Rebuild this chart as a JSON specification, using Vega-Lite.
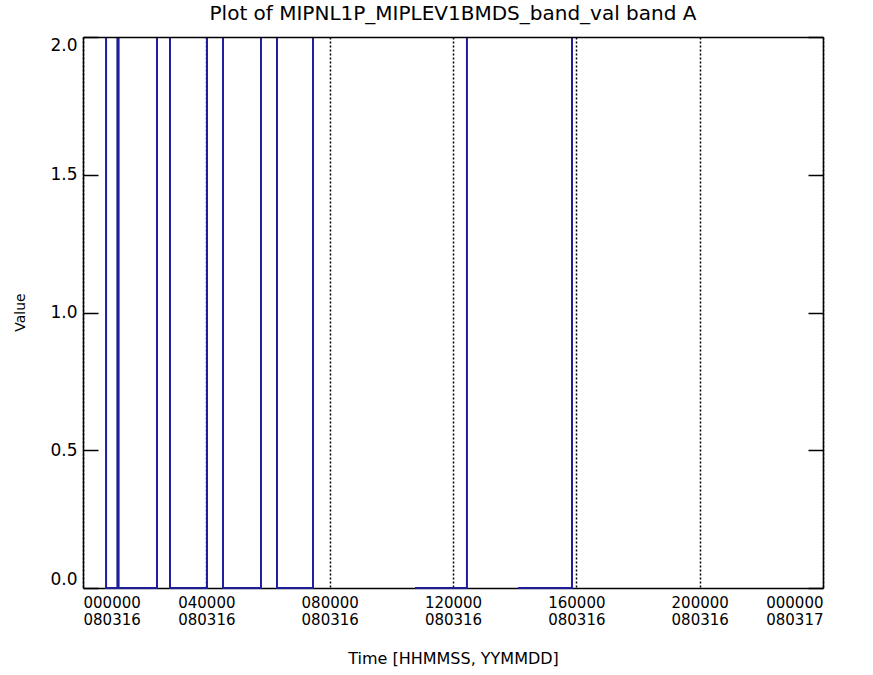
{
  "$schema": "https://vega.github.io/schema/vega-lite/v6.json",
  "width": 740,
  "height": 551,
  "autosize": "none",
  "padding": {"left": 83, "top": 37, "right": 50, "bottom": 87},
  "background": "white",
  "config": {"view": {"stroke": null}, "font": "DejaVu Sans"},
  "title": {"text": "Plot of MIPNL1P_MIPLEV1BMDS_band_val band A", "fontSize": 20, "fontWeight": "normal", "font": "DejaVu Sans", "offset": 9, "color": "black"},
  "data": {"values": [
    {"seg": 1, "i": 1, "t": 0.75, "v": 2},
    {"seg": 1, "i": 2, "t": 0.75, "v": 0},
    {"seg": 1, "i": 3, "t": 1.12, "v": 0},
    {"seg": 1, "i": 4, "t": 1.12, "v": 2},
    {"seg": 2, "i": 5, "t": 1.15, "v": 2},
    {"seg": 2, "i": 6, "t": 1.15, "v": 0},
    {"seg": 2, "i": 7, "t": 2.40, "v": 0},
    {"seg": 2, "i": 8, "t": 2.40, "v": 2},
    {"seg": 3, "i": 9, "t": 2.82, "v": 2},
    {"seg": 3, "i": 10, "t": 2.82, "v": 0},
    {"seg": 3, "i": 11, "t": 4.02, "v": 0},
    {"seg": 3, "i": 12, "t": 4.02, "v": 2},
    {"seg": 4, "i": 13, "t": 4.54, "v": 2},
    {"seg": 4, "i": 14, "t": 4.54, "v": 0},
    {"seg": 4, "i": 15, "t": 5.77, "v": 0},
    {"seg": 4, "i": 16, "t": 5.77, "v": 2},
    {"seg": 5, "i": 17, "t": 6.29, "v": 2},
    {"seg": 5, "i": 18, "t": 6.29, "v": 0},
    {"seg": 5, "i": 19, "t": 7.46, "v": 0},
    {"seg": 5, "i": 20, "t": 7.46, "v": 2},
    {"seg": 6, "i": 21, "t": 10.77, "v": 0},
    {"seg": 6, "i": 22, "t": 12.45, "v": 0},
    {"seg": 6, "i": 23, "t": 12.45, "v": 2},
    {"seg": 7, "i": 24, "t": 14.11, "v": 0},
    {"seg": 7, "i": 25, "t": 15.86, "v": 0},
    {"seg": 7, "i": 26, "t": 15.86, "v": 2}
  ]},
  "layer": [
    {
      "mark": {"type": "line", "color": "#1e1e9a", "strokeWidth": 1.8},
      "encoding": {
        "x": {"field": "t", "type": "quantitative", "scale": {"domain": [0, 24], "nice": false, "zero": false},
          "axis": {"orient": "bottom", "values": [0, 4, 8, 12, 16, 20, 24],
            "labelExpr": "datum.value == 24 ? ['000000', '080317'] : [(datum.value < 10 ? '0' : '') + datum.value + '0000', '080316']",
            "ticks": false, "grid": true, "gridDash": [2, 2], "gridColor": "black", "gridWidth": 1.5, "gridOpacity": 1,
            "domainColor": "black", "domainWidth": 1.5, "labelFontSize": 15, "labelColor": "black", "labelPadding": 7,
            "labelLineHeight": 17, "labelFont": "DejaVu Sans",
            "title": "Time [HHMMSS, YYMMDD]", "titleFontSize": 16, "titleFontWeight": "normal", "titleColor": "black",
            "titleFont": "DejaVu Sans", "titleY": 70, "titleBaseline": "middle"}},
        "y": {"field": "v", "type": "quantitative", "scale": {"domain": [0, 2], "nice": false},
          "axis": {"orient": "left", "values": [0, 0.5, 1, 1.5, 2], "format": ".1f", "tickSize": -15, "tickColor": "black", "tickWidth": 1.5,
            "domainColor": "black", "domainWidth": 1.5, "labelPadding": 21, "labelFlush": true, "grid": false,
            "labelFontSize": 17, "labelColor": "black", "labelFont": "DejaVu Sans",
            "title": "Value", "titleFontSize": 14, "titleFontWeight": "normal", "titleColor": "black", "titleFont": "DejaVu Sans",
            "titleX": -63, "titleY": 275, "titleBaseline": "middle", "titleAlign": "center"}},
        "detail": {"field": "seg"},
        "order": {"field": "i"}
      }
    },
    {
      "mark": {"type": "line", "color": "#1e1e9a", "strokeWidth": 1.8},
      "encoding": {
        "x": {"field": "t", "type": "quantitative",
          "axis": {"orient": "top", "labels": false, "ticks": false, "grid": false, "title": null,
            "domainColor": "black", "domainWidth": 1.5, "zindex": 1}},
        "y": {"field": "v", "type": "quantitative",
          "axis": {"orient": "right", "labels": false, "values": [0, 0.5, 1, 1.5, 2], "tickSize": -15, "tickColor": "black", "tickWidth": 1.5,
            "grid": false, "title": null, "domainColor": "black", "domainWidth": 1.5, "zindex": 1}},
        "detail": {"field": "seg"},
        "order": {"field": "i"}
      }
    }
  ],
  "resolve": {"axis": {"x": "independent", "y": "independent"}}
}
